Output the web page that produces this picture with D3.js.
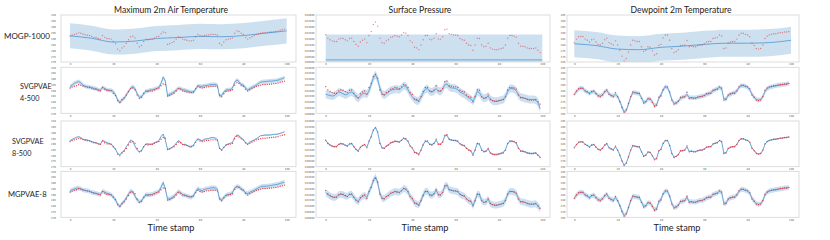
<!DOCTYPE html>
<html><head><meta charset="utf-8">
<script src="https://cdn.jsdelivr.net/npm/d3@7"></script>
<style>body{margin:0;background:#fff}svg{display:block}</style>
</head><body><svg id="c" width="830" height="240"></svg>
<script>
// ---------------- data ----------------
const columnTitles = ["Maximum 2m Air Temperature", "Surface Pressure", "Dewpoint 2m Temperature"];
const rowLabels = [["MOGP-1000"], ["SVGPVAE", "4-500"], ["SVGPVAE", "8-500"], ["MGPVAE-8"]];
const xLabel = "Time stamp";
const timeTicks = [0, 20, 40, 60, 80, 100];
const tempTicks = [270, 275, 280, 285, 290, 295, 300, 305, 310];
const presTicks = [1000, 1005, 1010, 1015, 1020, 1025, 1030, 1035, 1040];
const dewTicks = [265, 270, 275, 280, 285, 290, 295, 300, 305];
const mogpTimes = [0, 10, 20, 30, 40, 50, 60, 70, 80, 90, 100];

// ground truth (t = 0..99)
const tempTruth = [292.0,292.8,293.5,294.0,294.8,294.5,293.8,293.2,292.8,292.5,291.8,291.0,290.8,290.0,289.5,292.5,291.0,290.0,289.8,289.5,287.5,285.5,281.0,279.5,282.0,283.5,286.0,289.0,291.5,292.0,290.5,286.0,283.0,284.0,287.5,289.5,289.0,289.5,289.5,290.5,291.5,292.0,294.0,295.5,295.0,285.0,285.5,286.5,287.5,289.5,291.5,291.0,289.5,289.0,288.5,288.0,288.0,288.5,291.5,293.5,292.5,292.0,292.5,293.0,293.0,293.5,293.5,293.5,293.0,286.0,284.5,287.0,289.0,289.5,289.8,290.5,294.5,296.5,296.0,294.5,293.5,291.0,289.5,290.5,291.5,292.5,293.5,294.0,294.5,295.0,295.0,295.2,295.3,295.5,295.8,296.0,296.3,297.0,297.5,298.0];
const presTruth = [1023.2,1020.3,1018.9,1018.0,1017.4,1017.5,1019.5,1020.3,1020.0,1018.9,1018.0,1020.0,1020.3,1017.5,1015.0,1013.5,1017.0,1018.5,1019.5,1016.5,1022.5,1026.0,1032.0,1034.0,1030.5,1020.3,1016.5,1016.0,1018.0,1019.0,1021.0,1021.5,1022.5,1022.0,1021.5,1023.0,1025.0,1024.5,1022.5,1018.0,1016.5,1012.5,1012.0,1010.5,1014.5,1019.0,1022.5,1022.5,1019.5,1019.0,1020.3,1024.0,1019.5,1019.5,1021.5,1027.5,1028.0,1024.0,1023.5,1023.0,1023.0,1022.5,1020.0,1019.0,1018.5,1016.0,1014.5,1014.0,1010.0,1014.5,1020.3,1020.0,1014.5,1013.0,1013.5,1016.0,1012.0,1011.0,1010.5,1010.5,1011.0,1011.5,1012.0,1014.5,1020.3,1022.5,1022.5,1022.0,1021.0,1016.0,1013.5,1013.5,1013.0,1012.0,1011.5,1011.5,1011.5,1012.0,1010.0,1008.0];
const dewTruth = [281.5,284.5,286.5,286.75,286.75,284.5,283.5,282.0,284.0,284.5,282.0,280.0,279.5,281.0,284.0,285.3,281.5,280.5,279.5,283.0,279.5,275.0,270.0,266.0,268.0,273.5,279.5,283.5,283.0,282.5,282.5,278.0,274.0,275.0,278.0,277.5,274.5,271.0,272.0,279.0,280.0,285.5,288.0,288.0,283.5,276.5,273.0,274.0,275.5,279.0,279.0,279.5,283.25,278.0,278.5,278.0,278.0,279.0,279.5,279.5,280.5,282.0,282.5,282.5,285.0,285.5,286.0,288.0,287.0,276.5,277.0,281.0,282.0,282.5,282.5,284.5,288.0,289.5,289.5,288.5,288.0,286.5,281.0,279.0,276.5,276.0,276.5,279.5,285.0,287.0,288.0,288.5,289.0,289.0,289.5,290.0,290.0,290.5,290.5,291.0];

// MOGP-1000 (coarse, at mogpTimes)
const tempMogpMean = [292.3,290.2,287.0,287.8,290.0,290.8,291.8,291.5,292.5,294.5,296.5];
const presMogpMean = [1001.8,1001.8,1001.8,1001.8,1001.8,1001.8,1001.8,1001.8,1001.8,1001.8,1001.8];
const dewMogpMean = [280.5,279.0,276.0,275.5,277.5,278.5,280.0,281.0,281.0,281.5,283.5];

// SVGPVAE 4-500
const tempSv4Mean = [293.2,294.5,296.0,297.0,297.5,296.5,294.5,293.5,293.0,292.8,292.3,291.8,291.5,290.5,290.0,292.5,291.5,290.5,290.0,290.0,288.8,286.0,281.5,279.5,281.5,283.0,286.0,289.0,292.0,293.2,291.5,287.0,284.0,284.5,287.0,289.0,289.5,290.3,290.5,291.0,291.5,292.5,296.0,301.5,298.0,285.5,286.5,287.4,288.5,290.0,291.7,291.5,290.5,290.3,289.5,289.0,288.5,288.5,291.0,294.0,293.5,293.5,294.0,294.2,294.5,295.0,295.0,295.2,294.5,285.0,285.5,288.5,290.3,290.5,290.5,292.0,297.0,299.0,297.5,295.0,294.5,292.0,290.3,291.5,292.5,293.5,294.5,296.0,297.0,297.5,297.5,297.8,298.0,298.0,298.2,298.5,298.8,299.5,300.2,301.0];
const presSv4Mean = [1016.5,1016,1015.5,1015,1015.5,1017,1018.5,1018,1017,1016,1016.5,1018,1018.5,1017,1014.5,1013,1015,1017,1017.5,1016.5,1019.5,1025,1031,1033.5,1029.5,1022,1017,1016,1017,1018.5,1020,1020.5,1021,1021,1020.5,1022,1024,1023.5,1020.5,1017,1014.5,1012,1011,1011,1014,1018,1021,1021.5,1019,1018.5,1019.5,1021.5,1019.5,1019,1021,1025,1025.5,1023,1022,1022,1021.5,1020.5,1018.5,1017.5,1016.5,1015,1013.5,1012.5,1010.5,1014.5,1019,1018,1014.5,1013,1013.5,1015,1012.5,1011,1010.5,1010.5,1011,1011.5,1012,1014.5,1019,1021.5,1021.5,1021,1019.5,1016,1014,1013.5,1013,1012.5,1012,1012,1012,1011.5,1009.5,1004];
const dewSv4Mean = [281.5,284.0,286.0,287.0,286.5,284.5,283.5,282.5,283.5,284.0,282.5,280.5,280.0,281.0,283.5,285.0,282.0,280.5,280.0,281.5,279.5,275.5,270.5,266.0,267.5,273.0,279.0,283.0,283.0,282.5,282.0,278.5,274.5,275.0,277.5,277.5,275.0,271.5,272.5,278.0,281.0,285.5,288.0,287.5,283.0,277.0,273.5,274.0,275.5,278.0,279.0,279.5,281.5,278.5,278.5,278.5,278.5,279.0,279.5,280.0,280.5,281.5,282.0,283.0,284.5,285.5,286.5,287.5,286.5,277.5,277.5,280.5,281.5,282.5,283.0,284.5,287.5,289.0,289.0,288.5,287.5,285.5,281.5,279.0,277.0,276.5,277.0,279.5,284.0,286.5,287.5,288.0,288.5,289.0,289.5,289.5,290.0,290.0,290.5,291.0];

// SVGPVAE 8-500
const tempSv8Mean = [292.8,293.9,294.8,295.7,296.3,295.4,293.9,293.6,293.4,292.8,291.9,291.3,291.0,290.1,289.6,292.8,292.2,291.0,290.4,289.9,287.5,285.2,281.7,280.2,282.6,284.0,287.5,290.4,293.4,291.9,288.1,284.6,283.1,284.0,287.5,289.9,289.9,289.6,289.9,291.0,291.6,292.8,296.3,298.6,293.4,285.2,285.8,286.9,288.1,290.4,292.8,291.6,289.3,289.6,288.7,287.5,287.2,288.7,292.2,294.5,293.4,292.8,293.9,294.5,294.5,295.4,295.4,295.1,293.9,286.1,284.6,286.9,289.0,289.9,290.4,291.3,295.7,297.7,297.2,295.1,293.6,291.0,289.9,291.6,292.5,293.4,294.5,295.7,297.2,297.4,297.7,297.7,297.7,298.0,298.3,298.3,298.6,299.2,299.8,300.7];
const presSv8Mean = [1023.0,1020.5,1019.0,1018.0,1017.5,1017.8,1019.5,1020.2,1019.8,1018.8,1018.2,1019.8,1020.2,1017.5,1015.2,1013.8,1016.8,1018.5,1019.2,1017.0,1022.0,1026.5,1032.0,1034.5,1030.0,1021.0,1016.5,1016.2,1018.0,1019.2,1020.8,1021.5,1022.2,1022.0,1021.8,1023.2,1024.8,1024.2,1022.0,1018.2,1016.0,1012.8,1011.8,1011.0,1014.5,1019.5,1022.2,1022.0,1019.8,1019.2,1020.5,1023.2,1019.8,1019.8,1021.8,1027.0,1027.5,1024.0,1023.2,1023.0,1022.8,1022.0,1020.0,1019.0,1018.2,1016.2,1014.8,1013.8,1010.5,1015.0,1020.5,1019.5,1014.8,1013.2,1013.5,1015.5,1012.2,1011.0,1010.8,1010.8,1011.2,1011.8,1012.5,1015.0,1020.2,1022.2,1022.2,1021.8,1020.5,1016.2,1014.0,1013.5,1013.0,1012.2,1011.8,1011.5,1011.8,1012.0,1010.2,1008.5];
const dewSv8Mean = [281.8,284.2,286.3,286.8,286.5,284.6,283.6,282.4,283.8,284.3,282.2,280.3,279.8,281.2,283.8,285.0,281.8,280.6,279.8,282.5,279.6,275.2,270.2,266.3,268.2,273.6,279.4,283.3,283.0,282.6,282.3,278.2,274.3,275.1,277.8,277.5,274.7,271.3,272.3,278.6,280.4,285.4,287.8,287.8,283.6,276.8,273.3,274.1,275.6,278.8,279.1,279.6,282.6,278.3,278.6,278.2,278.2,279.0,279.5,279.6,280.5,281.9,282.5,282.6,284.8,285.5,286.1,287.8,286.9,277.0,277.2,280.8,281.9,282.5,282.6,284.4,287.8,289.3,289.4,288.5,287.9,286.3,281.3,279.2,276.8,276.2,276.6,279.4,284.8,286.9,287.9,288.5,288.9,289.1,289.5,289.9,290.1,290.4,290.6,291.0];

// MGPVAE-8
const tempMg8Mean = [292.9,293.8,294.6,295.2,295.3,294.8,293.8,293.4,293.2,292.6,291.7,291.2,290.9,290.2,289.8,292.6,292.0,290.9,290.3,289.6,287.6,285.0,281.3,279.4,282.0,283.8,287.0,290.2,292.9,292.0,288.4,285.0,283.5,284.2,287.2,289.5,289.6,289.6,290.0,290.8,291.5,292.6,296.0,300.2,294.5,286.0,286.0,287.0,288.3,290.4,292.3,291.5,289.5,289.4,288.5,287.8,287.5,288.8,292.3,295.0,293.8,293.2,294.2,294.8,295.0,295.6,295.8,295.6,294.5,286.0,285.0,287.2,289.2,289.8,290.3,291.5,295.5,296.7,296.5,294.8,293.5,291.2,290.6,291.8,292.6,293.5,294.6,295.6,296.6,296.9,297.0,297.2,297.4,297.7,298.1,298.4,298.8,299.5,300.0,300.6];
const presMg8Mean = [1021.5,1020.0,1018.5,1017.6,1017.2,1017.8,1019.6,1020.0,1019.6,1018.6,1018.2,1019.8,1020.0,1017.4,1014.8,1013.8,1016.6,1018.4,1019.0,1017.2,1022.2,1026.4,1032.0,1035.0,1030.2,1020.8,1016.6,1016.2,1018.0,1019.2,1020.8,1021.6,1022.4,1022.0,1021.8,1023.2,1025.0,1024.4,1022.2,1018.0,1016.2,1012.6,1011.6,1010.8,1014.6,1019.4,1022.6,1022.4,1019.8,1019.2,1020.4,1023.6,1019.8,1019.6,1021.6,1027.2,1027.8,1024.2,1023.4,1023.0,1022.8,1022.2,1020.0,1019.0,1018.4,1016.2,1014.6,1013.8,1010.2,1014.8,1020.2,1019.6,1014.6,1013.0,1013.4,1015.8,1012.0,1011.0,1010.6,1010.6,1011.0,1011.6,1012.2,1014.8,1020.2,1022.4,1022.6,1022.0,1020.8,1016.2,1013.6,1013.4,1013.0,1012.2,1011.6,1011.4,1011.6,1011.8,1010.0,1007.2];
const dewMg8Mean = [281.6,284.3,286.2,286.7,286.4,284.6,283.5,282.3,283.7,284.2,282.3,280.4,279.9,281.2,283.6,285.0,282.0,280.6,279.9,282.3,279.5,275.3,270.5,266.4,268.0,273.4,279.3,283.2,283.0,282.6,282.2,278.3,274.5,275.0,277.6,277.4,274.8,271.6,272.4,278.4,280.6,285.4,287.8,287.6,283.4,277.0,273.5,274.0,275.5,278.6,279.1,279.6,282.5,278.4,278.5,278.3,278.3,279.0,279.6,279.8,280.6,281.8,282.4,282.8,284.7,285.5,286.2,287.6,286.7,277.2,277.3,280.7,281.8,282.5,282.8,284.4,287.7,289.2,289.2,288.5,287.7,286.0,281.4,279.1,276.8,276.3,276.8,279.4,284.6,286.8,287.8,288.4,288.8,289.1,289.4,289.8,290.1,290.4,290.6,290.9];

// band half-widths (mean +/- value)
const tempHalf = [10.7, 1.8, 0.6, 2.0];
const presHalf = [21.7, 3.5, 0.8, 3.0];
const dewHalf = [11.5, 2.0, 0.7, 2.2];

// ---------------- layout ----------------
const svg = d3.select("#c");
const FONT = "Lato, 'Open Sans', sans-serif";
const colBox = [
  {fx0: 61, fx1: 296, t0: 70, t1: 286.7},
  {fx0: 316, fx1: 550, t0: 325.7, t1: 542.3},
  {fx0: 567, fx1: 799, t0: 574.3, t1: 791}
];
const rowBox = [
  {fy0: 15, fy1: 62},
  {fy0: 67.3, fy1: 113.3},
  {fy0: 121, fy1: 166.7},
  {fy0: 171.3, fy1: 217.3}
];
const colTitleX = [171, 420, 681];
const timeLabelX = [171, 425, 677];
const rowLabelPos = [
  {x: 4, y: [39], size: 8},
  {x: 20, y: [89.2, 100.8], size: 7.2},
  {x: 12, y: [144.2, 155.8], size: 7.2},
  {x: 8, y: [197.3], size: 7.6}
];

const colTicks = [tempTicks, presTicks, dewTicks];
const colTruth = [tempTruth, presTruth, dewTruth];
const colHalf = [tempHalf, presHalf, dewHalf];
const colMeans = [
  [tempMogpMean, tempSv4Mean, tempSv8Mean, tempMg8Mean],
  [presMogpMean, presSv4Mean, presSv8Mean, presMg8Mean],
  [dewMogpMean, dewSv4Mean, dewSv8Mean, dewMg8Mean]
];
const tickFmt = [d3.format("d"), d => d3.format("d")(d * 100), d3.format("d")];

const BAND = "#cde0ef", LINE = "#5c9fd6", DOT = "#e23a46", FRAME = "#d4d4d4", TICKC = "#555";

svg.append("rect").attr("width", 830).attr("height", 240).attr("fill", "#fff");

colTitleX.forEach((x, c) => {
  svg.append("text").attr("x", x).attr("y", 13).attr("text-anchor", "middle")
    .attr("font-family", FONT).attr("font-size", 8.6).attr("fill", "#222").text(columnTitles[c]);
  svg.append("text").attr("x", timeLabelX[c]).attr("y", 231).attr("text-anchor", "middle")
    .attr("font-family", FONT).attr("font-size", 9.2).attr("fill", "#222").text(xLabel);
});

rowLabels.forEach((lines, r) => {
  lines.forEach((s, i) => {
    svg.append("text").attr("x", rowLabelPos[r].x).attr("y", rowLabelPos[r].y[i])
      .attr("font-family", FONT).attr("font-size", rowLabelPos[r].size).attr("fill", "#222").text(s);
  });
});

let clipId = 0;
rowBox.forEach((rb, r) => {
  colBox.forEach((cb, c) => {
    const ticks = colTicks[c];
    const x = d3.scaleLinear().domain([0, 100]).range([cb.t0, cb.t1]);
    const y = d3.scaleLinear().domain([ticks[0], ticks[ticks.length - 1]]).range([rb.fy1, rb.fy0]);
    const g = svg.append("g");
    const id = "clip" + (clipId++);
    g.append("clipPath").attr("id", id).append("rect")
      .attr("x", cb.fx0).attr("y", rb.fy0).attr("width", cb.fx1 - cb.fx0).attr("height", rb.fy1 - rb.fy0);
    const pg = g.append("g").attr("clip-path", `url(#${id})`);

    const meanArr = colMeans[c][r];
    const half = colHalf[c][r];
    const pts = meanArr.map((m, i) => ({t: r === 0 ? mogpTimes[i] : i, m}));
    const curve = r === 0 ? d3.curveMonotoneX : d3.curveLinear;
    pg.append("path").datum(pts)
      .attr("d", d3.area().x(d => x(d.t)).y0(d => y(d.m - half)).y1(d => y(d.m + half)).curve(curve))
      .attr("fill", BAND);
    pg.append("path").datum(pts)
      .attr("d", d3.line().x(d => x(d.t)).y(d => y(d.m)).curve(curve))
      .attr("fill", "none").attr("stroke", LINE).attr("stroke-width", 0.9);
    pg.selectAll("circle").data(colTruth[c]).join("circle")
      .attr("cx", (d, i) => x(i)).attr("cy", d => y(d)).attr("r", 0.7)
      .attr("fill", DOT).attr("opacity", r === 0 ? 0.6 : 0.95);

    g.append("rect").attr("x", cb.fx0).attr("y", rb.fy0)
      .attr("width", cb.fx1 - cb.fx0).attr("height", rb.fy1 - rb.fy0)
      .attr("fill", "none").attr("stroke", FRAME).attr("stroke-width", 0.8);

    // axes (labels only)
    const ya = d3.axisLeft(y).tickValues(ticks).tickSize(0).tickPadding(0).tickFormat(tickFmt[c]);
    const yg = g.append("g").attr("transform", `translate(${c === 0 ? cb.fx0 - 5 : cb.fx0 - 1.5},0)`).call(ya);
    yg.select(".domain").remove();
    yg.selectAll("text").attr("font-family", "'DejaVu Sans', sans-serif").attr("font-size", 2.6).attr("fill", TICKC).attr("dy", "0.35em");
    const xa = d3.axisBottom(x).tickValues(timeTicks).tickSize(0).tickPadding(0).tickFormat(d3.format("d"));
    const xg = g.append("g").attr("transform", `translate(0,${rb.fy1 + 1.6})`).call(xa);
    xg.select(".domain").remove();
    xg.selectAll("text").attr("font-family", "'DejaVu Sans', sans-serif").attr("font-size", 2.6).attr("fill", TICKC).attr("dy", "0.71em");
  });
});
</script></body></html>
